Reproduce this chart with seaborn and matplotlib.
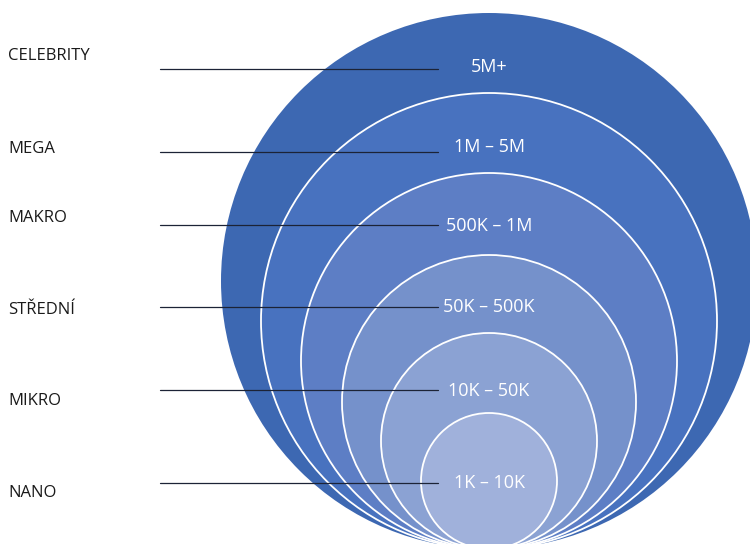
import matplotlib
matplotlib.use("Agg")
import matplotlib.pyplot as plt
from matplotlib.patches import Circle
import seaborn as sns

# ---- data ----
categories = ["CELEBRITY", "MEGA", "MAKRO", "STŘEDNÍ", "MIKRO", "NANO"]
ranges = ["5M+", "1M – 5M", "500K – 1M", "50K – 500K", "10K – 50K", "1K – 10K"]
radii = [268, 228, 188, 147, 108, 68]          # relative circle sizes
colors = ["#3D68B2", "#4872BF", "#5D7EC5", "#7591CB", "#8BA2D3", "#A0B1DB"]

# layout (pixel-like coordinate system)
cx, bottom = 489, 549
cat_baseline = [59.5, 153, 222, 314, 405, 497]
rng_baseline = [72, 152, 231, 312, 396, 488]
line_y = [69, 152, 225, 307, 390, 483]

sns.set_theme(style="white")
plt.rcParams['font.family'] = ['Open Sans', 'DejaVu Sans']

fig = plt.figure(figsize=(7.5, 5.44), dpi=100)
ax = fig.add_axes([0, 0, 1, 1])
ax.set_xlim(0, 750)
ax.set_ylim(544, 0)
ax.set_aspect('equal')
ax.axis('off')

for i, (r, c) in enumerate(zip(radii, colors)):
    ec = 'none' if i == 0 else 'white'
    ax.add_patch(Circle((cx, bottom - r), r, facecolor=c, edgecolor=ec,
                        linewidth=1.3, zorder=i + 1))

for cat, yb in zip(categories, cat_baseline):
    ax.text(8, yb, cat, fontsize=12, color='#1a1a1a', ha='left', va='baseline', zorder=20)

for y in line_y:
    ax.plot([160, 438], [y, y], color='#1c2336', linewidth=0.9, zorder=15)

for rg, yb in zip(ranges, rng_baseline):
    ax.text(cx, yb, rg, fontsize=13, color='white', ha='center', va='baseline', zorder=20)

fig.savefig("out.png", dpi=100)
